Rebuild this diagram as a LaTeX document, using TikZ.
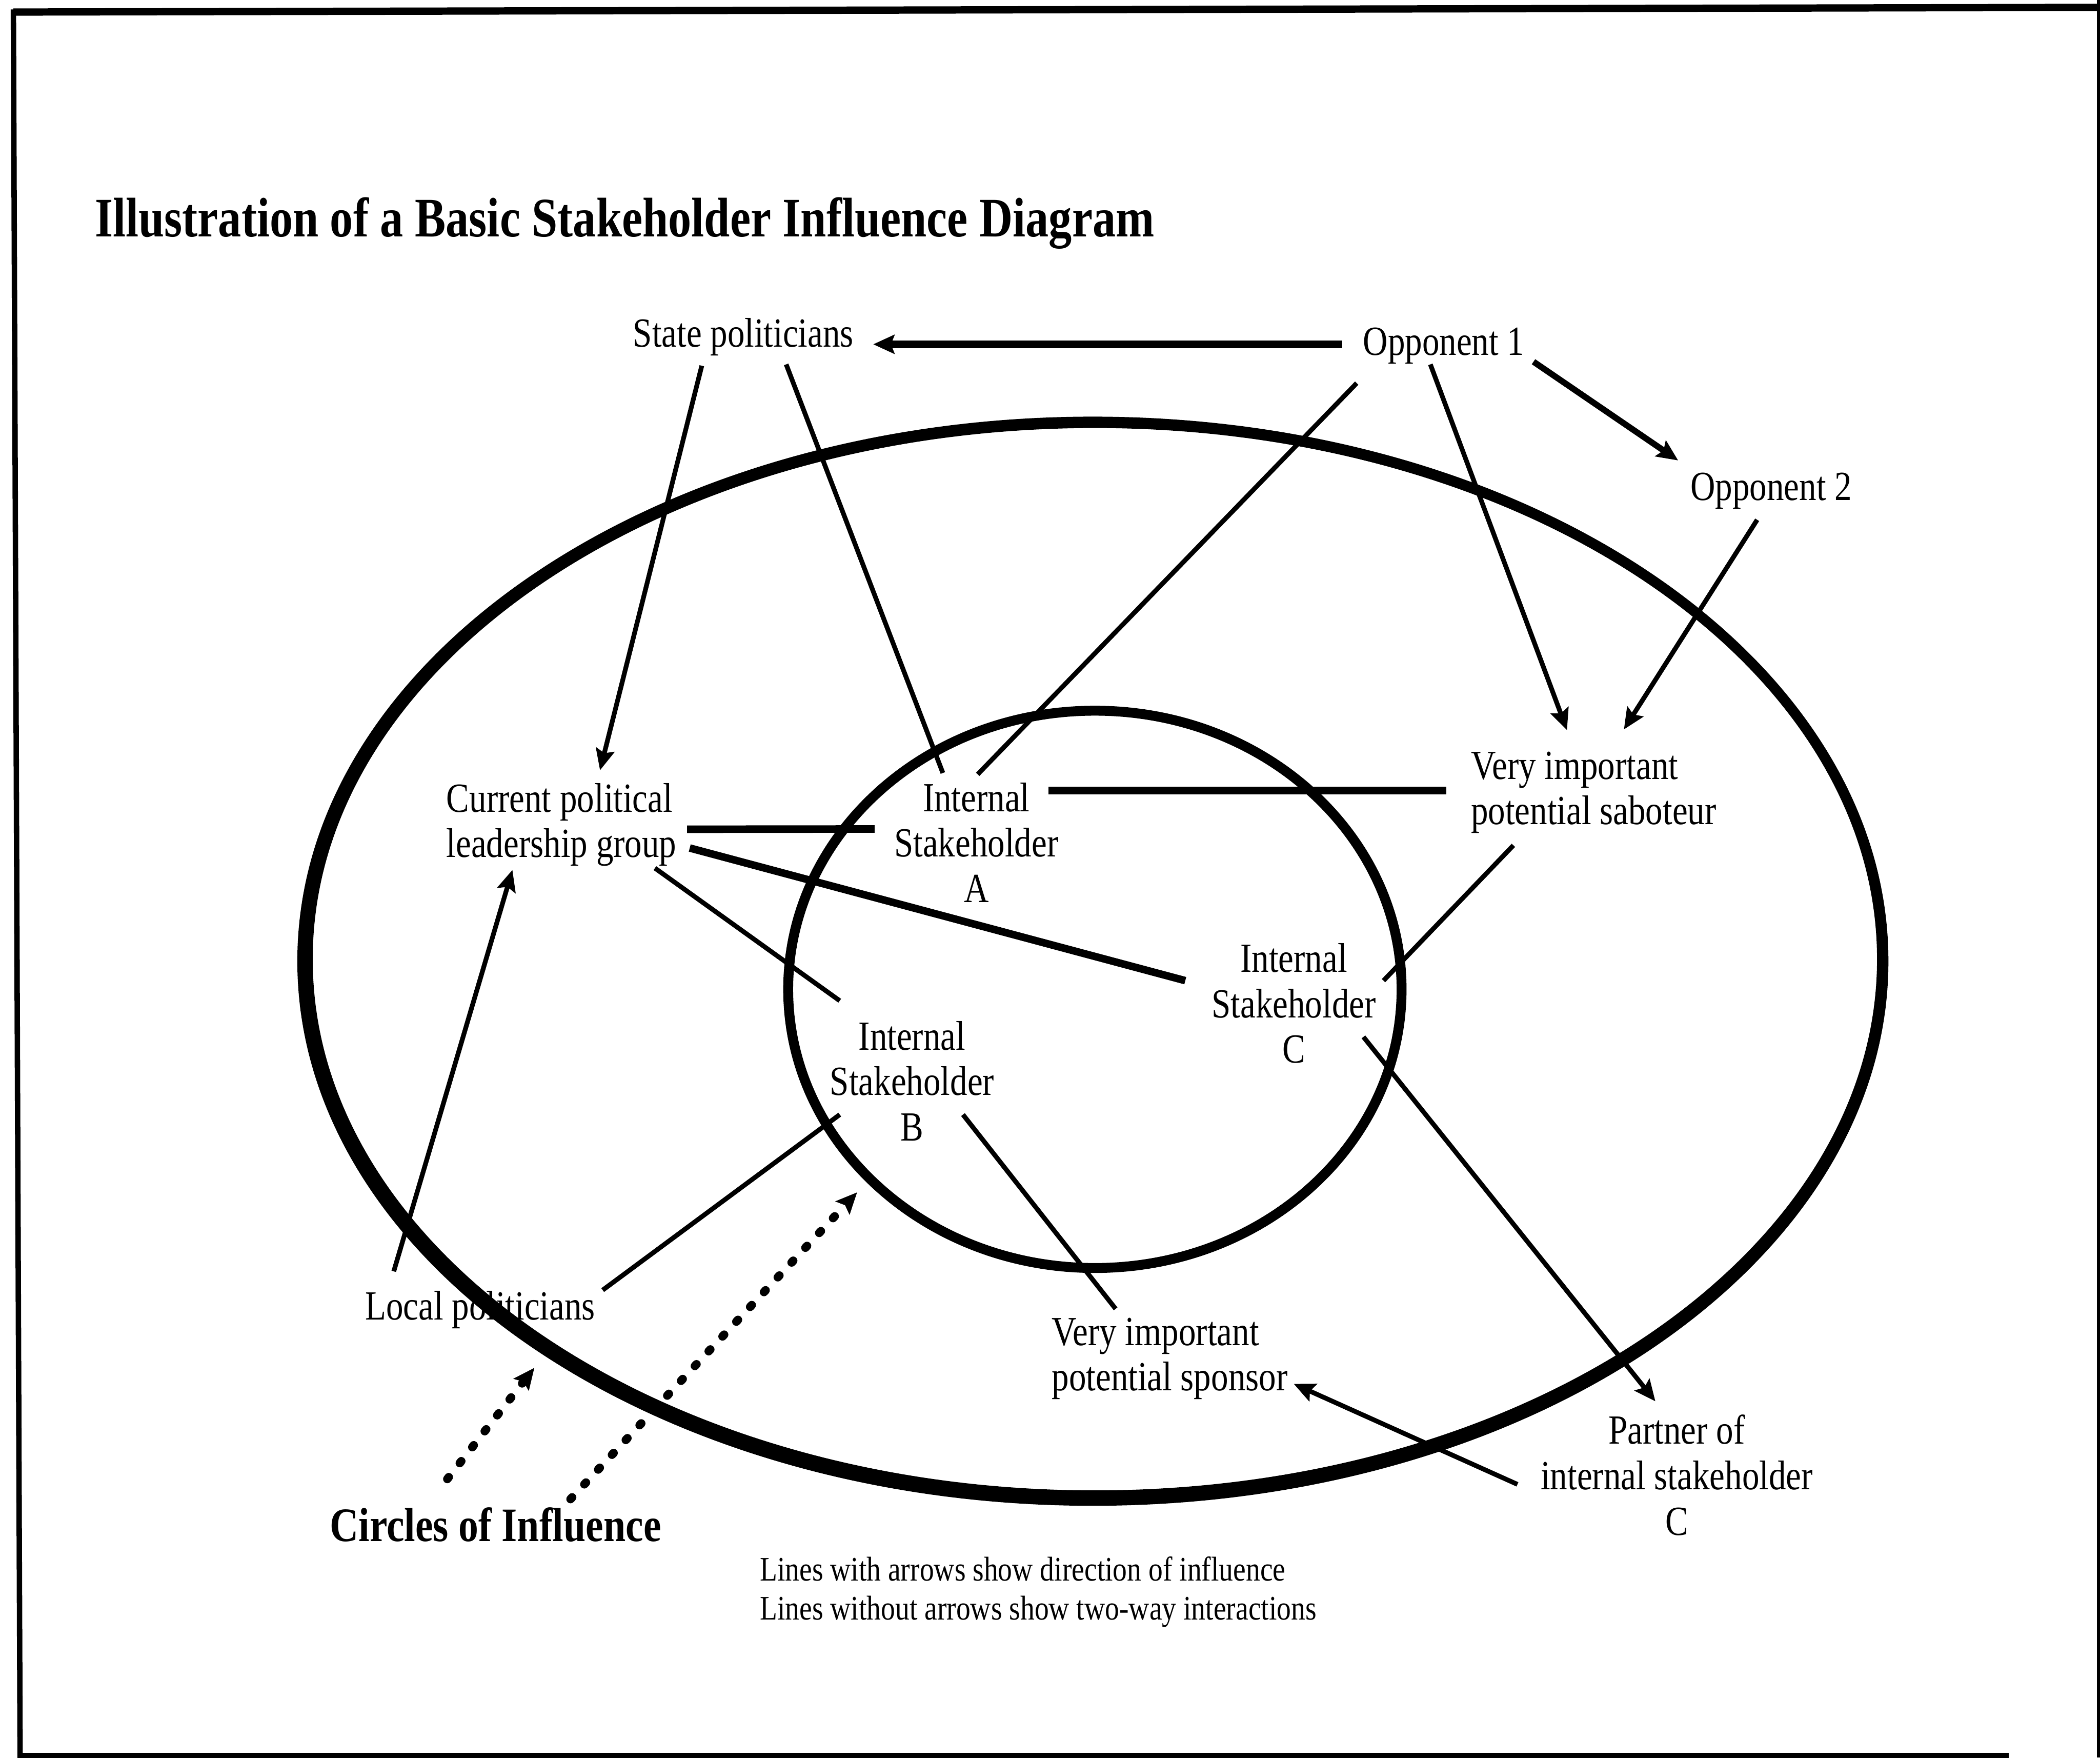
\documentclass[tikz,border=0pt]{standalone}
\usepackage{fontspec}
\setmainfont{Liberation Serif}[FakeStretch=0.83]
\usetikzlibrary{arrows.meta,calc}

\begin{document}
\begin{tikzpicture}[x=0.02cm,y=-0.02cm,
  lbl/.style={inner sep=0pt, font=\fontsize{17.6}{19.3}\selectfont},
  thn/.style={line width=2pt},
  med/.style={line width=2.6pt},
  thk/.style={line width=3.2pt},
  arr/.style={-{Stealth[length=9pt,width=8pt,inset=1.5pt]}},
  dots/.style={line width=3.6pt, line cap=round, dash pattern=on 1pt off 7.6pt},
]
\useasboundingbox (0,0) rectangle (1568,1312);

% page frame
\draw[line width=3.1pt] (1568,5.5) -- (10,9);
\draw[line width=2.3pt] (10,7) -- (15,1312);
\draw[line width=2.2pt] (13,1310.5) -- (1500,1310.5);
\draw[line width=1.4pt] (1567,0) -- (1567,1312);

% circles of influence
\fill[even odd rule] (816,717.5) ellipse [x radius=594, y radius=406.5]
                     (817.5,716) ellipse [x radius=584, y radius=396.5];
\draw[line width=4.2pt] (817.5,738.5) ellipse [x radius=229, y radius=208];

% title
\node[anchor=base west, inner sep=0pt, font=\bfseries\fontsize{23.7}{28}\selectfont]
  (ttl) at (70.5,176.5) {Illustration of a Basic Stakeholder Influence Diagram};

% stakeholders
\node[lbl, anchor=base] (st) at (555,259) {State politicians};
\node[lbl, anchor=base] (opa) at (1078,265) {Opponent 1};
\node[lbl, anchor=base] (opb) at (1322.5,373.5) {Opponent 2};
\node[lbl, anchor=north west, align=left] (cur) at (333,584.3) {Current political\\leadership group};
\node[lbl, anchor=north, align=center] (ia) at (729,583.8) {Internal\\Stakeholder\\A};
\node[lbl, anchor=north west, align=left] (sab) at (1098,560.8) {Very important\\potential saboteur};
\node[lbl, anchor=north, align=center] (ic) at (966,703.8) {Internal\\Stakeholder\\C};
\node[lbl, anchor=north, align=center] (ib) at (681,761.8) {Internal\\Stakeholder\\B};
\node[lbl, anchor=base] (loc) at (358.5,985) {Local politicians};
\node[lbl, anchor=north west, align=left] (spo) at (785,983.3) {Very important\\potential sponsor};
\node[lbl, anchor=north, align=center] (par) at (1252,1055.8) {Partner of\\internal stakeholder\\C};

% captions
\node[anchor=base, inner sep=0pt, font=\bfseries\fontsize{20.4}{24}\selectfont]
  (circ) at (370,1150.5) {Circles of Influence};
\node[anchor=north west, inner sep=0pt, align=left, font=\fontsize{14.6}{16.7}\selectfont]
  (lgd) at (567,1161.4) {Lines with arrows show direction of influence\\Lines without arrows show two-way interactions};

% targets of the caption arrows
\coordinate (ringa) at (399,1021);
\coordinate (ringb) at (640,890);

% influence (arrows) and two-way interactions (plain lines)
\draw[thk, arr] ($(opa.base)+(-76,-8)$) -- ($(st.base)+(97,-2)$);
\draw[thn, arr] ($(st.base)+(-31,14)$) -- ($(cur.north west)+(115,-9.3)$);
\draw[thn] ($(st.base)+(32,13)$) -- ($(ia.north)+(-25,-6.8)$);
\draw[thn] ($(opa.base)+(-65,21)$) -- ($(ia.north)+(1,-5.8)$);
\draw[thn, arr] ($(opa.base)+(-10,7)$) -- ($(sab.north west)+(72,-15.8)$);
\draw[med, arr] ($(opa.base)+(67,5)$) -- ($(opb.base)+(-69.5,-29.8)$);
\draw[thn, arr] ($(opb.base)+(-10.5,14.5)$) -- ($(sab.north west)+(114.5,-16.3)$);
\draw[thk] ($(ia.north)+(54,6.2)$) -- ($(sab.north west)+(-18,29.2)$);
\draw[thk] ($(cur.north west)+(180,34.7)$) -- ($(ia.north)+(-76,35)$);
\draw[thk] ($(cur.north west)+(182,48.7)$) -- ($(ic.north)+(-81,28.2)$);
\draw[thn] ($(cur.north west)+(156,63.7)$) -- ($(ib.north)+(-54,-14.8)$);
\draw[thn, arr] ($(loc.base)+(-64.5,-36)$) -- ($(cur.north west)+(49.6,65.1)$);
\draw[thn] ($(loc.base)+(91.5,-22)$) -- ($(ib.north)+(-54,70.2)$);
\draw[thn] ($(ic.north)+(67,28.2)$) -- ($(sab.north west)+(32,70.2)$);
\draw[thn, arr] ($(ic.north)+(52,70.2)$) -- ($(par.north)+(-16,-9.8)$);
\draw[thn] ($(ib.north)+(38,70.2)$) -- ($(spo.north west)+(48,-6.3)$);
\draw[thn, arr] ($(par.north)+(-119,52.2)$) -- ($(spo.north west)+(181,49.7)$);

% dotted pointers to the two circles
\draw[dots, arr] ($(circ.base)+(-36,-46.5)$) -- (ringa);
\draw[dots, arr] ($(circ.base)+(56,-31.5)$) -- (ringb);
\end{tikzpicture}
\end{document}
